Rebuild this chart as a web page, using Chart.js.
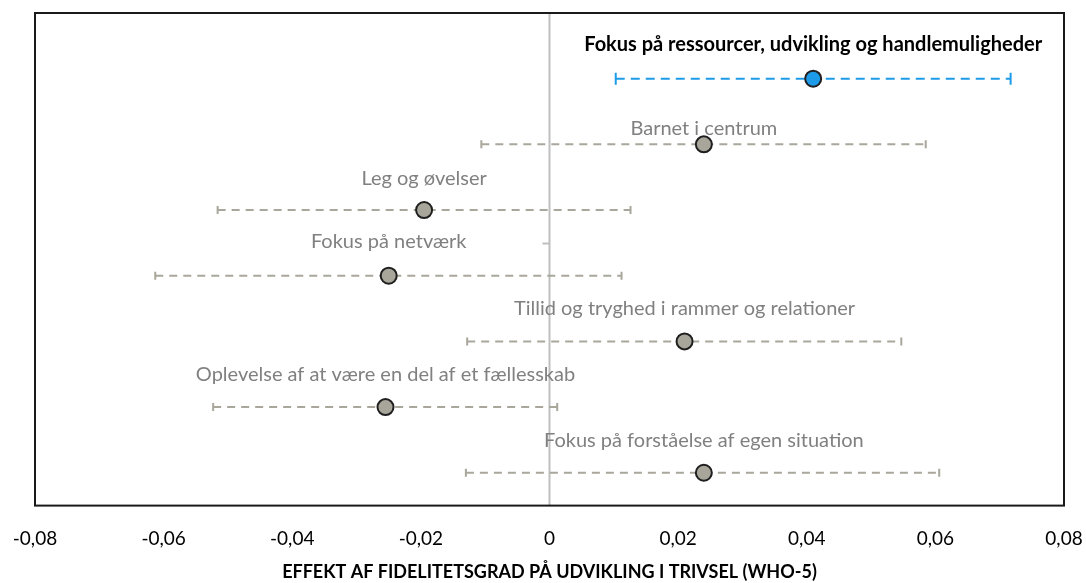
<!DOCTYPE html>
<html>
<head>
<meta charset="utf-8">
<script src="https://cdn.jsdelivr.net/npm/chart.js@4.4.1/dist/chart.umd.min.js"></script>
<style>
  html, body { margin: 0; padding: 0; background: #fff; }
  #wrap { width: 1086px; height: 583px; }
</style>
</head>
<body>
<div id="wrap"><canvas id="myChart" width="1086" height="583"></canvas></div>
<script>
// categories, top to bottom
const categories = [
    'Fokus på ressourcer, udvikling og handlemuligheder',
    'Barnet i centrum',
    'Leg og øvelser',
    'Fokus på netværk',
    'Tillid og tryghed i rammer og relationer',
    'Oplevelse af at være en del af et fællesskab',
    'Fokus på forståelse af egen situation'
];
const estimates = [0.041, 0.024, -0.0195, -0.025, 0.021, -0.0255, 0.024];
const lowerCI = [0.0103, -0.0106, -0.0516, -0.0613, -0.0128, -0.0523, -0.013];
const upperCI = [0.0717, 0.0585, 0.0126, 0.0112, 0.0547, 0.0012, 0.0606];
const highlighted = [true, false, false, false, false, false, false];
const xTicks = [-0.08, -0.06, -0.04, -0.02, 0, 0.02, 0.04, 0.06, 0.08];
const axisTitle = 'EFFEKT AF FIDELITETSGRAD PÅ UDVIKLING I TRIVSEL (WHO-5)';

const FONT = 'Lato, "Open Sans", sans-serif';
const BLUE = '#1E9BE8';
const GREY = '#A9A79B';
const rowY = i => categories.length - i; // top row gets highest value

// error bars, zero line, frame and labels
const forestPlugin = {
    id: 'forest',
    beforeDatasetsDraw(chart) {
        const { ctx, chartArea: a, scales: { x, y } } = chart;
        ctx.save();
        // zero line
        ctx.strokeStyle = '#BFBFBF';
        ctx.lineWidth = 2;
        ctx.beginPath();
        ctx.moveTo(x.getPixelForValue(0), a.top);
        ctx.lineTo(x.getPixelForValue(0), a.bottom);
        ctx.stroke();
        ctx.beginPath();
        ctx.moveTo(x.getPixelForValue(0) - 7, y.getPixelForValue(4.49));
        ctx.lineTo(x.getPixelForValue(0), y.getPixelForValue(4.49));
        ctx.stroke();

        categories.forEach((c, i) => {
            const py = y.getPixelForValue(rowY(i));
            const x0 = x.getPixelForValue(lowerCI[i]);
            const x1 = x.getPixelForValue(upperCI[i]);
            const cap = highlighted[i] ? 6 : 4;
            ctx.strokeStyle = highlighted[i] ? BLUE : GREY;
            ctx.lineWidth = 2;
            ctx.setLineDash(highlighted[i] ? [9, 6] : [8, 6]);
            ctx.beginPath();
            ctx.moveTo(x0, py);
            ctx.lineTo(x1, py);
            ctx.stroke();
            ctx.setLineDash([]);
            ctx.beginPath();
            ctx.moveTo(x0, py - cap); ctx.lineTo(x0, py + cap);
            ctx.moveTo(x1, py - cap); ctx.lineTo(x1, py + cap);
            ctx.stroke();
        });
        ctx.restore();
    },
    afterDatasetsDraw(chart) {
        const { ctx, chartArea: a, scales: { x, y } } = chart;
        ctx.save();
        const lift = [34, 16, 31, 34, 33, 33, 32];
        ctx.textAlign = 'center';
        ctx.textBaseline = 'middle';
        categories.forEach((c, i) => {
            const px = x.getPixelForValue(estimates[i]);
            const py = y.getPixelForValue(rowY(i));
            ctx.font = (highlighted[i] ? 'bold 20px ' : '20px ') + FONT;
            ctx.fillStyle = highlighted[i] ? '#000' : '#808080';
            ctx.fillText(c, px, py - lift[i]);
        });
        // frame
        ctx.strokeStyle = '#1a1a1a';
        ctx.lineWidth = 2;
        ctx.strokeRect(a.left, a.top, a.right - a.left, a.bottom - a.top);
        ctx.restore();
    }
};

const ctx = document.getElementById('myChart').getContext('2d');
const myChart = new Chart(ctx, {
    type: 'scatter',
    data: {
        datasets: [{
            label: 'Effekt',
            data: estimates.map((v, i) => ({ x: v, y: rowY(i) })),
            pointRadius: 8,
            pointHoverRadius: 8,
            pointBackgroundColor: highlighted.map(h => h ? BLUE : '#A8A69A'),
            pointBorderColor: '#1f1f1f',
            pointBorderWidth: 2
        }]
    },
    options: {
        responsive: false,
        animation: false,
        layout: { padding: { left: 35, right: 22, top: 13, bottom: -2 } },
        plugins: {
            legend: { display: false },
            tooltip: { enabled: false }
        },
        scales: {
            x: {
                type: 'linear',
                min: -0.08,
                max: 0.08,
                afterBuildTicks: axis => { axis.ticks = xTicks.map(v => ({ value: v })); },
                afterFit: axis => { axis.paddingLeft = 0; axis.paddingRight = 0; },
                grid: { display: false, drawTicks: false },
                border: { display: false },
                ticks: {
                    padding: 22,
                    color: '#000',
                    font: { family: FONT, size: 19 },
                    callback: v => v === 0 ? '0' : v.toFixed(2).replace('.', ',')
                },
                title: {
                    display: true,
                    text: axisTitle,
                    color: '#000',
                    font: { family: FONT, size: 18, weight: 'bold' },
                    padding: { top: -11, bottom: 2 }
                }
            },
            y: {
                type: 'linear',
                min: 0.5,
                max: 8,
                display: false
            }
        }
    },
    plugins: [forestPlugin]
});
</script>
</body>
</html>
